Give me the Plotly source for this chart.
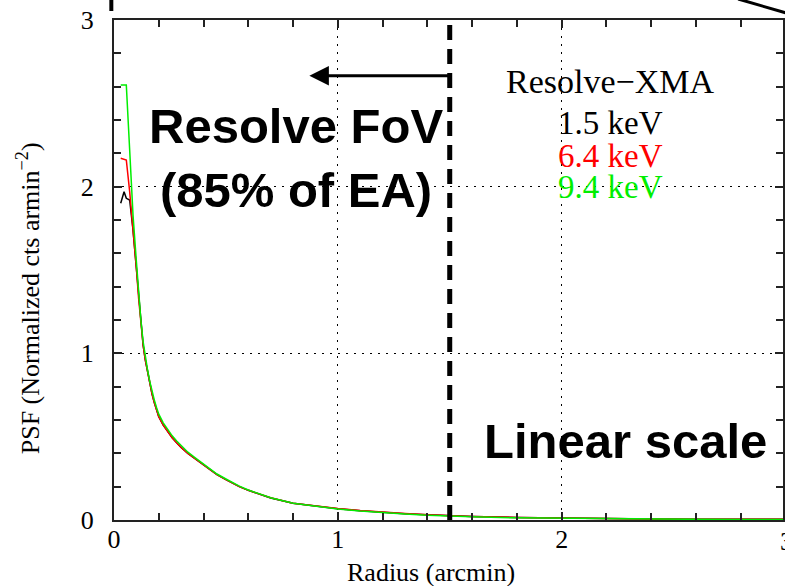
import plotly.graph_objects as go

# ---- data ----
radius = [0.03, 0.045, 0.055, 0.07, 0.085, 0.10, 0.11, 0.12, 0.13, 0.14, 0.15, 0.16,
          0.17, 0.18, 0.19, 0.20, 0.22, 0.24, 0.26, 0.28, 0.30, 0.33, 0.36, 0.40,
          0.43, 0.46, 0.50, 0.56, 0.60, 0.70, 0.80, 0.90, 1.0, 1.1, 1.2, 1.3, 1.4,
          1.5, 1.6, 1.8, 2.0, 2.2, 2.4, 2.6, 2.8, 3.0]
psf_15 = [1.90, 1.97, 1.93, 1.92, 1.74, 1.50, 1.32, 1.17, 1.05, 0.96, 0.885, 0.815,
          0.755, 0.705, 0.66, 0.62, 0.57, 0.53, 0.493, 0.463, 0.435, 0.40, 0.37, 0.33,
          0.30, 0.272, 0.242, 0.20, 0.178, 0.132, 0.100, 0.082, 0.068, 0.056, 0.046,
          0.038, 0.031, 0.025, 0.021, 0.015, 0.011, 0.008, 0.006, 0.005, 0.004, 0.004]
psf_64 = [2.17, 2.165, 2.16, 1.97, 1.76, 1.51, 1.33, 1.18, 1.05, 0.96, 0.885, 0.815,
          0.755, 0.705, 0.66, 0.62, 0.57, 0.53, 0.493, 0.463, 0.435, 0.40, 0.37, 0.33,
          0.30, 0.272, 0.242, 0.20, 0.178, 0.133, 0.101, 0.083, 0.069, 0.057, 0.047,
          0.039, 0.032, 0.026, 0.021, 0.015, 0.011, 0.008, 0.006, 0.005, 0.004, 0.004]
psf_94 = [2.61, 2.61, 2.61, 2.22, 1.83, 1.55, 1.36, 1.20, 1.07, 0.975, 0.90, 0.83,
          0.77, 0.72, 0.675, 0.635, 0.583, 0.542, 0.505, 0.474, 0.445, 0.407, 0.376, 0.336,
          0.305, 0.276, 0.246, 0.203, 0.180, 0.133, 0.100, 0.081, 0.066, 0.054, 0.044,
          0.036, 0.029, 0.023, 0.019, 0.013, 0.010, 0.007, 0.005, 0.004, 0.003, 0.003]
series_names = ["1.5 keV", "6.4 keV", "9.4 keV"]
series_colors = ["#000000", "#ff0000", "#00ee00"]
x_ticks = [0, 1, 2, 3]
y_ticks = [0, 1, 2, 3]
fov_radius = 1.5

SERIF = "Liberation Serif, Times New Roman, serif"
SANS = "Liberation Sans, Arial, sans-serif"

fig = go.Figure()
for ys, name, col in zip([psf_15, psf_64, psf_94], series_names, series_colors):
    fig.add_trace(go.Scatter(x=radius, y=ys, mode="lines", name=name,
                             line=dict(color=col, width=1.5), showlegend=False))

axis_common = dict(
    showline=True, linecolor="#222", linewidth=2, mirror="ticks",
    ticks="inside", ticklen=8, tickcolor="#222", tickwidth=1.5,
    showgrid=True, gridcolor="#000", gridwidth=1, griddash="2px,6px",
    zeroline=False,
    tickfont=dict(family=SERIF, size=26, color="#000"),
    minor=dict(dtick=0.2, ticks="inside", ticklen=7, tickcolor="#222",
               tickwidth=1.5, showgrid=False),
)
fig.update_xaxes(range=[0, 2.989], tickvals=x_ticks, ticktext=[str(v) for v in x_ticks],
                 ticklabelstandoff=-5, **axis_common)
fig.update_yaxes(range=[0, 3], tickvals=y_ticks, ticktext=[str(v) for v in y_ticks],
                 ticklabelstandoff=13, **axis_common)

# FoV dashed boundary
fig.add_shape(type="line", x0=fov_radius, x1=fov_radius, y0=0, y1=3,
              xref="x", yref="y", line=dict(color="#000", width=5, dash="15px,9px"))
# arrow pointing inside FoV
fig.add_annotation(x=0.873, y=2.665, ax=fov_radius + 0.01, ay=2.665, axref="x", ayref="y",
                   xref="x", yref="y", text="", showarrow=True, arrowhead=2,
                   arrowsize=1.3, arrowwidth=3, arrowcolor="#000")

# outside decorations (parts of a larger figure)
fig.add_shape(type="line", xref="paper", yref="paper", x0=-0.004, x1=-0.004,
              y0=1.018, y1=1.05, line=dict(color="#000", width=4))
fig.add_shape(type="line", xref="paper", yref="paper", x0=0.933, x1=1.02,
              y0=1.042, y1=1.008, line=dict(color="#000", width=3))

# texts
fig.add_annotation(x=0.815, y=2.17, xref="x", yref="y", showarrow=False,
                   text="<b>Resolve FoV<br>(85% of EA)</b>",
                   font=dict(family=SANS, size=49, color="#000"),
                   xanchor="center", yanchor="middle", align="center")
fig.add_annotation(x=2.285, y=0.474, xref="x", yref="y", showarrow=False,
                   text="<b>Linear scale</b>",
                   font=dict(family=SANS, size=49, color="#000"),
                   xanchor="center", yanchor="middle")
fig.add_annotation(x=2.218, y=2.632, xref="x", yref="y", showarrow=False,
                   text="Resolve\u2212XMA",
                   font=dict(family=SERIF, size=34, color="#000"),
                   xanchor="center", yanchor="middle")
for name, col, yy in zip(series_names, series_colors, [2.38, 2.182, 1.996]):
    fig.add_annotation(x=2.46, y=yy, xref="x", yref="y", showarrow=False,
                       text=name, font=dict(family=SERIF, size=33, color=col),
                       xanchor="right", yanchor="middle")

# cut-off "3" tick label at right edge
fig.add_annotation(x=(788.5 - 114) / 671, y=(520 - 541) / 500, xref="paper", yref="paper",
                   showarrow=False, text="3",
                   font=dict(family=SERIF, size=26, color="#000"),
                   xanchor="center", yanchor="middle")

# axis titles
fig.add_annotation(x=(432 - 114) / 671, y=(520 - 572) / 500, xref="paper", yref="paper",
                   showarrow=False, text="Radius (arcmin)",
                   font=dict(family=SERIF, size=26, color="#000"),
                   xanchor="center", yanchor="middle")
fig.add_annotation(x=(28 - 114) / 671, y=(520 - 298) / 500, xref="paper", yref="paper",
                   showarrow=False, text="PSF (Normalized cts armin<sup>\u22122</sup>)",
                   textangle=-90, font=dict(family=SERIF, size=26, color="#000"),
                   xanchor="center", yanchor="middle")

fig.update_layout(width=785, height=586, margin=dict(l=114, r=0, t=20, b=66),
                  paper_bgcolor="white", plot_bgcolor="white", showlegend=False)

fig.write_html("out.html")
